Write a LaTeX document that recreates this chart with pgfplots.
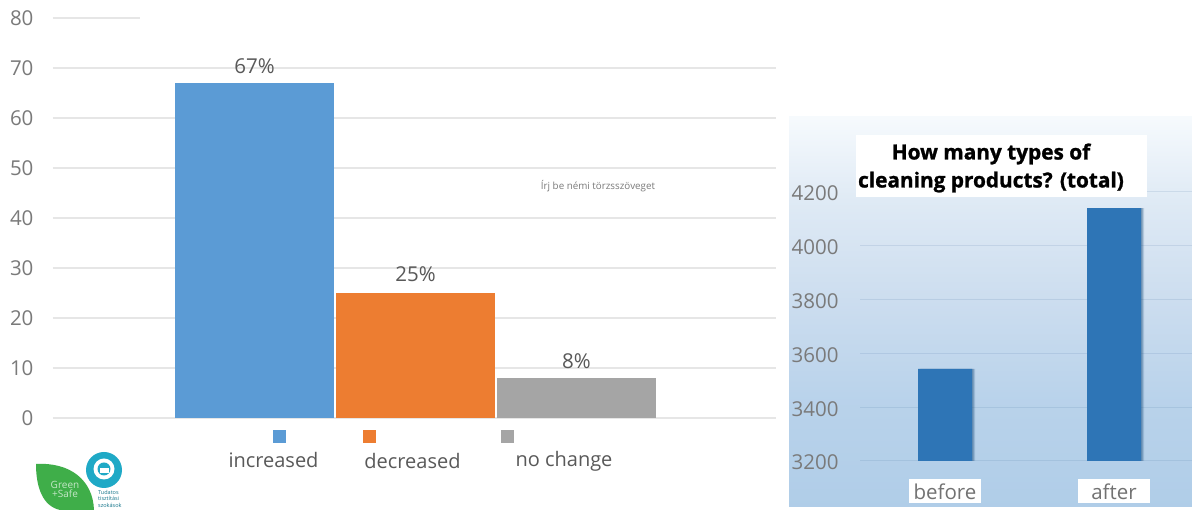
\documentclass[border=0pt]{standalone}
\usepackage{fontspec}
\setmainfont{Open Sans}
\newfontfamily\titlefont[BoldFeatures={FakeBold=1.2}]{Open Sans}
\usepackage{pgfplots}
\pgfplotsset{compat=1.18}
\definecolor{barblue}{HTML}{5B9BD5}
\definecolor{barorange}{HTML}{ED7D31}
\definecolor{bargray}{HTML}{A5A5A5}
\definecolor{gridgray}{HTML}{E6E6E6}
\definecolor{ticktext}{HTML}{7A7A7A}
\definecolor{labeltext}{HTML}{595959}
\definecolor{rightbar}{HTML}{2E75B6}
\definecolor{rightgrid}{HTML}{4472A0}
\definecolor{leafgreen}{HTML}{3FAE49}
\definecolor{logocyan}{HTML}{1FA9C6}
% Panel background behind the right-hand chart
\pgfdeclareverticalshading{panelblue}{100bp}{
  rgb(0bp)=(0.69,0.805,0.91);
  rgb(25bp)=(0.69,0.805,0.91);
  rgb(38.7bp)=(0.725,0.825,0.92);
  rgb(51.5bp)=(0.80,0.867,0.937);
  rgb(64.4bp)=(0.875,0.918,0.96);
  rgb(75bp)=(0.965,0.98,0.992);
  rgb(100bp)=(0.965,0.98,0.992)}
\begin{document}
\begin{tikzpicture}[x=1pt,y=1pt]
  % Page frame, 1192 by 510
  \path[fill=white] (0,0) rectangle (1192,510);
  \path[use as bounding box] (0,0) rectangle (1192,510);
  % Gradient panel
  \path[shading=panelblue] (789,3) rectangle (1192,393);

  % Left chart: share of answers per category
  \begin{axis}[
    at={(53pt,92pt)}, anchor=south west,
    scale only axis, width=723pt, height=400pt,
    xmin=-1.2516, xmax=3.239, ymin=0, ymax=80,
    clip=false,
    axis line style={draw=none},
    tick style={draw=none},
    xtick=\empty,
    ytick={0,10,...,70},
    extra y ticks={80},
    extra y tick style={grid=none},
    ymajorgrids,
    grid style={gridgray, line width=1.5pt},
    tick label style={font=\fontsize{20.5}{22}\selectfont, text=ticktext},
    yticklabel style={xshift=-16pt, yshift=-0.5pt},
    /pgf/number format/assume math mode=true,
    ybar, bar width=159pt, bar shift=0pt,
    nodes near coords={\pgfmathprintnumber{\pgfplotspointmeta}\%},
    nodes near coords style={font=\fontsize{20.5}{22}\selectfont, text=labeltext, inner sep=2pt, yshift=7.5pt},
  ]
    % Top gridline only runs over the left part of the plot
    \addplot[sharp plot, gridgray, line width=1.5pt, forget plot, nodes near coords={}, mark=none] coordinates {(-1.2516,80) (-0.711,80)};
    \addplot[draw=none, fill=barblue] coordinates {(0,67)};
    \addplot[draw=none, fill=barorange, nodes near coords style={yshift=2pt}] coordinates {(1,25)};
    \addplot[draw=none, fill=bargray] coordinates {(2,8)};
  \end{axis}

  % Legend of the left chart
  \fill[barblue] (273,67) rectangle (286,80);
  \fill[barorange] (363,67) rectangle (376,80);
  \fill[bargray] (501,67) rectangle (514,80);
  \node[font=\fontsize{20}{22}\selectfont, text=labeltext, anchor=base] at (273.5,42.5) {increased};
  \node[font=\fontsize{20}{22}\selectfont, text=labeltext, anchor=base] at (412.5,41.5) {decreased};
  \node[font=\fontsize{20}{22}\selectfont, text=labeltext, anchor=base] at (564,43.5) {no change};

  % Placeholder text left on the slide
  \node[font=\fontsize{9.8}{11}\selectfont, text=ticktext] at (598,324) {Írj be némi törzsszöveget};

  % Right chart: number of product types
  \begin{axis}[
    at={(860pt,49pt)}, anchor=south west,
    scale only axis, width=332pt, height=269pt,
    xmin=-0.503, xmax=1.4615, ymin=3200, ymax=4200,
    clip=false,
    axis line style={draw=none},
    tick style={draw=none},
    xtick={0,1}, xticklabels={before,after},
    ytick={3200,3400,...,4200},
    ymajorgrids,
    grid style={rightgrid, opacity=0.14, line width=1pt},
    tick label style={font=\fontsize{20.5}{22}\selectfont, text=ticktext},
    yticklabel style={xshift=-18pt, yshift=-1.5pt},
    xticklabel style={fill=white, inner sep=0pt, minimum width=72pt, minimum height=24pt, yshift=-14pt, text=labeltext!85!white},
    /pgf/number format/assume math mode=true,
    /pgf/number format/1000 sep={},
    ybar, bar width=54pt,
  ]
    % Soft edge on the right of each bar
    \addplot[bar shift=3pt, draw=none, fill=rightbar!70!black, fill opacity=0.2] coordinates {(0,3542) (1,4140)};
    \addplot[bar shift=1.5pt, draw=none, fill=rightbar!70!black, fill opacity=0.4] coordinates {(0,3542) (1,4140)};
    \addplot[bar shift=0pt, draw=none, fill=rightbar] coordinates {(0,3542) (1,4140)};
  \end{axis}

  % Title box of the right chart
  \fill[white] (856,313) rectangle (1147,375);
  \node[font=\titlefont\bfseries\fontsize{20.8}{28}\selectfont, text=black, align=center] at (991,342) {How many types of\\cleaning products? (total)};

  % Project logo
  \fill[leafgreen] (36,46) .. controls (70,48) and (93,30) .. (94,0)
    -- (60,0) .. controls (42,4) and (36,24) .. (36,46) -- cycle;
  \fill[logocyan] (104,40) circle (18);
  \fill[white] (104,41) circle (10.5);
  \fill[logocyan] (104,41) circle (6.5);
  \fill[white] (99.5,37) rectangle (108.5,42);
  \node[font=\fontsize{10}{10}\selectfont, text=white!70!leafgreen, align=center, inner sep=0pt] at (65,21) {Green\\[-1pt]+Safe};
  \node[font=\fontsize{5.5}{6.5}\selectfont, text=logocyan!70!black, align=left, inner sep=0pt, anchor=north west] at (98,20) {Tudatos\\tisztítási\\szokások};
\end{tikzpicture}
\end{document}
